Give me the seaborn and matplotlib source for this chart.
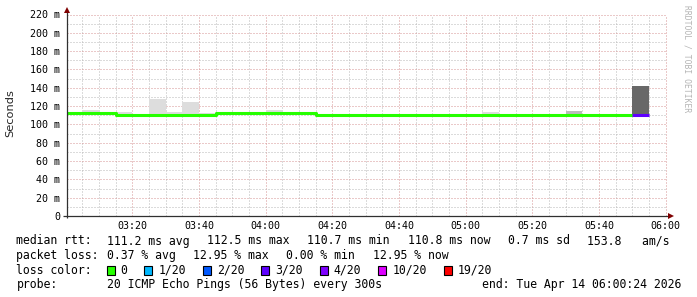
import matplotlib
matplotlib.use("Agg")
import matplotlib.pyplot as plt
import seaborn as sns
import numpy as np
import pandas as pd
from matplotlib.patches import Rectangle

# ---------------- data ----------------
bin_start = ["03:00", "03:05", "03:10", "03:15", "03:20", "03:25", "03:30", "03:35", "03:40",
             "03:45", "03:50", "03:55", "04:00", "04:05", "04:10", "04:15", "04:20", "04:25",
             "04:30", "04:35", "04:40", "04:45", "04:50", "04:55", "05:00", "05:05", "05:10",
             "05:15", "05:20", "05:25", "05:30", "05:35", "05:40", "05:45", "05:50", "05:55"]
median_ms = [112.5, 112.5, 112.5, 110.8, 110.8, 110.8, 110.8, 110.8, 110.8,
             112.3, 112.3, 112.3, 112.3, 112.3, 112.3, 110.8, 110.8, 110.8,
             110.8, 110.8, 110.8, 110.8, 110.8, 110.8, 110.8, 110.8, 110.8,
             110.8, 110.8, 110.8, 110.8, 110.8, 110.8, 110.8, 110.8, None]
loss_pings = [0, 0, 0, 0, 0, 0, 0, 0, 0,
              0, 0, 0, 0, 0, 0, 0, 0, 0,
              0, 0, 0, 0, 0, 0, 0, 0, 0,
              0, 0, 0, 0, 0, 0, 0, 3, None]
# smoke (ping spread) per bin: low / high ms, and grey density
smoke_lo = [None, 111.9, None, 110.2, None, 110.2, 110.2, 110.2, 110.2,
            None, None, None, 111.7, None, None, None, None, None,
            None, None, None, None, None, None, None, 110.2, None,
            None, None, None, 110.2, None, None, None, 110.2, None]
smoke_hi = [None, 116.0, None, 113.8, None, 128.1, 113.8, 124.8, 112.6,
            None, None, None, 116.0, None, None, None, None, None,
            None, None, None, None, None, None, None, 114.0, None,
            None, None, None, 114.2, None, None, None, 142.3, None]
smoke_grey = [None, "#dddddd", None, "#dddddd", None, "#dddddd", "#dddddd", "#dddddd", "#dddddd",
              None, None, None, "#dddddd", None, None, None, None, None,
              None, None, None, None, None, None, None, "#dddddd", None,
              None, None, None, "#bbbbbb", None, None, None, "#686868", None]

loss_levels = [0, 1, 2, 3, 4, 10, 19]
loss_labels = ["0", "1/20", "2/20", "3/20", "4/20", "10/20", "19/20"]
loss_colors = ["#26ff00", "#00b8ff", "#0059ff", "#5e00ff", "#7e00ff", "#dd00ff", "#ff0000"]

y_ticks = [0, 20, 40, 60, 80, 100, 120, 140, 160, 180, 200, 220]
y_tick_labels = ["0", "20 m", "40 m", "60 m", "80 m", "100 m", "120 m", "140 m",
                 "160 m", "180 m", "200 m", "220 m"]
x_tick_labels = ["03:20", "03:40", "04:00", "04:20", "04:40", "05:00", "05:20", "05:40", "06:00"]

view_start = "03:00:24"
view_end = "06:00:24"
step_min = 5

legend_rows = [
    ["median rtt:  ", "111.2 ms avg", "112.5 ms max", "110.7 ms min", "110.8 ms now",
     "0.7 ms sd", "153.8   am/s"],
    ["packet loss: ", "0.37 % avg", "12.95 % max", "0.00 % min", "12.95 % now"],
]
probe_text = "20 ICMP Echo Pings (56 Bytes) every 300s"
end_text = "end: Tue Apr 14 06:00:24 2026"


def to_min(s):
    parts = [int(p) for p in s.split(":")]
    m = (parts[0] - 3) * 60 + parts[1]
    if len(parts) > 2:
        m += parts[2] / 60.0
    return m


def loss_color(l):
    for thr, col in zip(loss_levels, loss_colors):
        if l <= thr:
            return col
    return loss_colors[-1]


# ---------------- figure ----------------
sns.set_style("white")
plt.rcParams["font.family"] = ["DejaVu Sans Mono", "DejaVu Sans"]

W, H = 697, 297
fig = plt.figure(figsize=(W / 100, H / 100), dpi=100)
fig.patch.set_facecolor("white")

ax_l, ax_r, ax_top, ax_bot = 67, 667, 14.5, 216.0
ax = fig.add_axes([ax_l / W, 1 - ax_bot / H, (ax_r - ax_l) / W, (ax_bot - ax_top) / H])
ax.set_facecolor("white")

t = np.array([to_min(s) for s in bin_start])
med = np.array([np.nan if v is None else v for v in median_ms], float)
loss = np.array([np.nan if v is None else v for v in loss_pings], float)

# smoke
for i in range(len(t)):
    if smoke_hi[i] is not None:
        ax.bar(t[i], smoke_hi[i] - smoke_lo[i], bottom=smoke_lo[i], width=step_min,
               align="edge", color=smoke_grey[i], linewidth=0, zorder=2)

# median line, green part (no loss) as step line
green = loss == 0
gx = list(t[green]) + [t[green][-1] + step_min]
gy = list(med[green]) + [med[green][-1]]
df = pd.DataFrame({"t": gx, "ms": gy})
sns.lineplot(data=df, x="t", y="ms", drawstyle="steps-post", color=loss_colors[0],
             linewidth=2.2, ax=ax, zorder=4)
for i in range(len(t)):
    if not np.isnan(loss[i]) and loss[i] > 0:
        ax.hlines(med[i], t[i], t[i] + step_min, color=loss_color(loss[i]),
                  linewidth=2.2, zorder=4)

ax.set_xlim(to_min(view_start), to_min(view_end))
ax.set_ylim(0, 220)
ax.set_xlabel("")
ax.set_ylabel("")

# ticks & grid
major_x = [to_min(s) for s in x_tick_labels]
ax.set_xticks(major_x)
ax.set_xticklabels(x_tick_labels)
ax.set_xticks(np.arange(5, 181, 5), minor=True)
ax.set_yticks(y_ticks)
ax.set_yticklabels(y_tick_labels)
ax.set_yticks(np.arange(10, 221, 10), minor=True)

minor_c = "#b8b8b8"
major_c = "#d69494"
ax.grid(which="minor", color=minor_c, linestyle=(0, (1, 2)), linewidth=0.72, zorder=1)
ax.grid(which="major", color=major_c, linestyle=(0, (1, 2)), linewidth=0.72, zorder=1)
ax.set_axisbelow(True)
ax.tick_params(which="major", direction="out", length=2.2, width=0.7, color=major_c,
               labelsize=7.2, pad=2.5, labelcolor="black")
ax.tick_params(which="minor", direction="out", length=2.2, width=0.7, color=minor_c)
ax.tick_params(axis="x", which="major", pad=1.5)
for lab in ax.get_xticklabels() + ax.get_yticklabels():
    lab.set_family("DejaVu Sans Mono")

for sp in ax.spines.values():
    sp.set_visible(False)

axis_c = "#303030"
arrow_c = "#7f0000"
ax.plot([0, 0], [-0.012, 1.02], transform=ax.transAxes, color=axis_c, lw=0.9,
        clip_on=False, zorder=6, solid_capstyle="butt")
ax.plot([-0.007, 1.004], [0, 0], transform=ax.transAxes, color=axis_c, lw=0.9,
        clip_on=False, zorder=6, solid_capstyle="butt")
ax.plot([0], [1.022], marker="^", markersize=4.2, color=arrow_c, transform=ax.transAxes,
        clip_on=False, zorder=7, markeredgewidth=0)
ax.plot([1.006], [0], marker=">", markersize=4.2, color=arrow_c, transform=ax.transAxes,
        clip_on=False, zorder=7, markeredgewidth=0)

# y label
fig.text(10 / W, 1 - 113 / H, "Seconds", rotation=90, ha="center", va="center",
         fontsize=8.2, family="DejaVu Sans")

# watermark
fig.text(687 / W, 1 - 5 / H, "RRDTOOL / TOBI OETIKER", rotation=270, ha="center",
         va="top", fontsize=5.8, color="#b4b4b4", family="DejaVu Sans Mono")

# legend text
fs = 8.3
cw = 6.94
gap = 17.0
x0 = 16.5
row_y = [241, 255.5, 270, 284.3]


def ftext(x, y, s, **kw):
    fig.text(x / W, 1 - y / H, s, fontsize=fs, family="DejaVu Sans Mono",
             va="center", color="black", **kw)


for r, items in enumerate(legend_rows):
    x = x0
    for k, s in enumerate(items):
        ftext(x, row_y[r], s)
        if k == 0:
            x = x0 + len(s) * cw
        else:
            x += len(s) * cw + gap

# loss colour row
ftext(x0, row_y[2], "loss color:")
x = x0 + 13 * cw
for lab, col in zip(loss_labels, loss_colors):
    fig.patches.append(Rectangle((x / W, 1 - (row_y[2] + 4.5) / H), 8 / W, 9 / H,
                                 transform=fig.transFigure, facecolor=col,
                                 edgecolor="black", linewidth=0.8))
    ftext(x + 14, row_y[2], lab)
    x = x + 14 + len(lab) * cw + 16.7

# probe row
ftext(x0, row_y[3], "probe:")
ftext(x0 + 13 * cw, row_y[3], probe_text)
fig.text(681 / W, 1 - row_y[3] / H, end_text, fontsize=fs, family="DejaVu Sans Mono",
         va="center", ha="right", color="black")

fig.savefig("out.png", dpi=100, facecolor="white")
